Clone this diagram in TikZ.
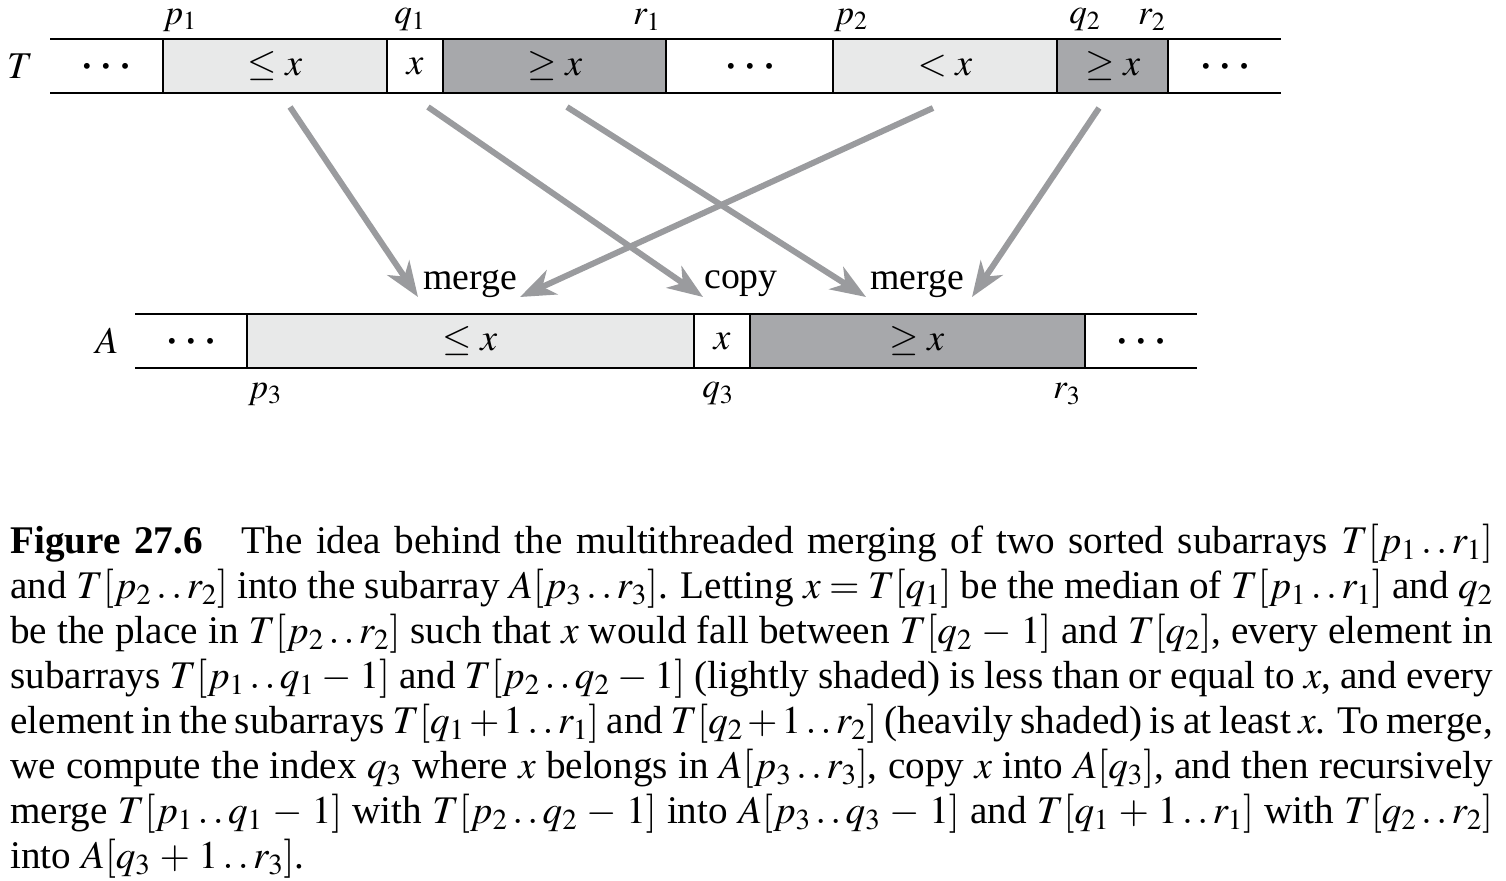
\documentclass[tikz,border=0pt]{standalone}
\usepackage{mathptmx}
\usepackage{fontspec}
\setmainfont{Liberation Serif}
\usetikzlibrary{arrows.meta}
\definecolor{lightcell}{HTML}{E8E9E9}
\definecolor{darkcell}{HTML}{A7A8AB}
\definecolor{arrowgray}{HTML}{9A9B9E}
\newcommand{\idxdots}{\mathinner{\ldotp\ldotp}}
\newcommand{\celldots}{{\fontsize{14}{16}\selectfont\textbullet\hspace{6pt}\textbullet\hspace{6pt}\textbullet}}

\begin{document}
\begin{tikzpicture}[x=0.02cm,y=-0.02cm,
    txt/.style={font=\fontsize{21.5}{25.6}\selectfont,inner sep=0pt},
    idx/.style={font=\fontsize{20}{24}\selectfont,inner sep=0pt},
    rule/.style={line width=0.9pt},
    move/.style={arrowgray,line width=3.4pt,-{Stealth[length=20pt,width=15pt,inset=6pt]}}]
    \useasboundingbox (0,0) rectangle (1506,880);
    % array T
    \fill[lightcell] (163,39) rectangle (387,93) (833,39) rectangle (1057,93);
    \fill[darkcell] (443,39) rectangle (666,93) (1057,39) rectangle (1168,93);
    \draw[rule] (50,39) -- (1281,39) (50,93) -- (1281,93);
    \foreach \x in {163,387,443,666,833,1057,1168}
        \draw[rule] (\x,39) -- (\x,93);
    \node at (20,66) [txt] (tname) {$T$};
    \node at (106,69) [txt] (tdotsa) {\celldots};
    \node at (275,66) [txt] (tle) {$\le x$};
    \node at (415,66) [txt] (tx) {$x$};
    \node at (555,66) [txt] (tge) {$\ge x$};
    \node at (750,69) [txt] (tdotsb) {\celldots};
    \node at (945,66) [txt] (tlt) {$< x$};
    \node at (1113,66) [txt] (tgeb) {$\ge x$};
    \node at (1225,69) [txt] (tdotsc) {\celldots};
    \node at (180,20) [idx] (p1) {$p_1$};
    \node at (410,20) [idx] (q1) {$q_1$};
    \node at (647,20) [idx] (r1) {$r_1$};
    \node at (851,20) [idx] (p2) {$p_2$};
    \node at (1085,20) [idx] (q2) {$q_2$};
    \node at (1152,20) [idx] (r2) {$r_2$};
    % array A
    \fill[lightcell] (247,314) rectangle (694,368);
    \fill[darkcell] (750,314) rectangle (1085,368);
    \draw[rule] (135,314) -- (1197,314) (135,368) -- (1197,368);
    \foreach \x in {247,694,750,1085}
        \draw[rule] (\x,314) -- (\x,368);
    \node at (107,341) [txt] (aname) {$A$};
    \node at (191,344) [txt] (adotsa) {\celldots};
    \node at (470,341) [txt] (ale) {$\le x$};
    \node at (722,341) [txt] (ax) {$x$};
    \node at (917,341) [txt] (age) {$\ge x$};
    \node at (1141,344) [txt] (adotsb) {\celldots};
    \node at (265,394) [idx] (p3) {$p_3$};
    \node at (718,394) [idx] (q3) {$q_3$};
    \node at (1067,394) [idx] (r3) {$r_3$};
    % moves from T to A
    \node at (470,284) [txt] (mergea) {merge};
    \node at (741,284) [txt] (copy) {copy};
    \node at (917,284) [txt] (mergeb) {merge};
    \coordinate (sa) at (290,107); \coordinate (ea) at (418,297);
    \coordinate (sb) at (933,108); \coordinate (eb) at (520,297);
    \coordinate (sc) at (428,107); \coordinate (ec) at (703,297);
    \coordinate (sd) at (567,107); \coordinate (ed) at (866,297);
    \coordinate (se) at (1099,108); \coordinate (ee) at (972,297);
    \draw[move] (sa) -- (ea);
    \draw[move] (sb) -- (eb);
    \draw[move] (sc) -- (ec);
    \draw[move] (sd) -- (ed);
    \draw[move] (se) -- (ee);
    % caption
    \node at (10,524) [font=\fontsize{22.3}{25.6}\selectfont,inner sep=0pt,anchor=north west,text width=29.66cm,align=justify] (caption) {%
        \medmuskip=4mu plus 2mu minus 3mu
        \textbf{Figure 27.6}\quad The idea behind the multithreaded merging of two sorted subarrays $T[p_1\idxdots r_1]$\linebreak
        and $T[p_2\idxdots r_2]$ into the subarray $A[p_3\idxdots r_3]$. Letting $x=T[q_1]$ be the median of $T[p_1\idxdots r_1]$ and $q_2$\linebreak
        be the place in $T[p_2\idxdots r_2]$ such that $x$ would fall between $T[q_2-1]$ and $T[q_2]$, every element in\linebreak
        subarrays $T[p_1\idxdots q_1-1]$ and $T[p_2\idxdots q_2-1]$ (lightly shaded) is less than or equal to $x$, and every\linebreak
        element in the subarrays $T[q_1+1\idxdots r_1]$ and $T[q_2+1\idxdots r_2]$ (heavily shaded) is at least $x$. To merge,\linebreak
        we compute the index $q_3$ where $x$ belongs in $A[p_3\idxdots r_3]$, copy $x$ into $A[q_3]$, and then recursively\linebreak
        merge $T[p_1\idxdots q_1-1]$ with $T[p_2\idxdots q_2-1]$ into $A[p_3\idxdots q_3-1]$ and $T[q_1+1\idxdots r_1]$ with $T[q_2\idxdots r_2]$\linebreak
        into $A[q_3+1\idxdots r_3]$.};
\end{tikzpicture}
\end{document}
